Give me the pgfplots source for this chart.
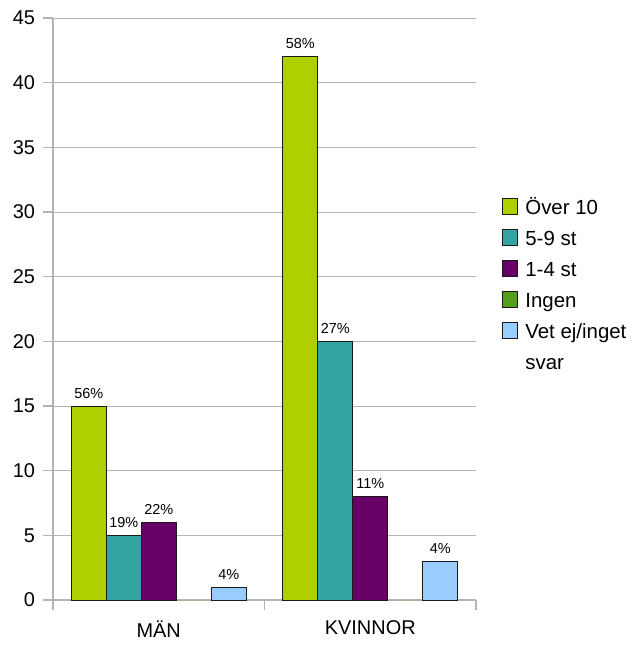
\documentclass[border=0pt]{standalone}
\usepackage{fontspec}
\setmainfont{Liberation Sans}
\usepackage{pgfplots}
\pgfplotsset{compat=1.18}
\definecolor{cOver}{HTML}{B0CF00}
\definecolor{cFem}{HTML}{33A3A3}
\definecolor{cEtt}{HTML}{660066}
\definecolor{cIngen}{HTML}{579D1C}
\definecolor{cVet}{HTML}{99CCFF}
\definecolor{cGrid}{HTML}{B3B3B3}
\definecolor{cEdge}{HTML}{1A1A1A}
\begin{document}
\begin{tikzpicture}
\begin{axis}[
  scale only axis, width=423bp, height=582bp,
  ymin=0, ymax=45, xmin=-0.5, xmax=1.5,
  ybar=0pt, bar width=0.1655,
  axis lines*=left,
  axis line style={draw=cGrid, line width=1.1pt},
  ymajorgrids, grid style={draw=cGrid, line width=0.9pt},
  ytick={0,5,...,45},
  xtick={-0.5,0.5,1.5}, xticklabels={},
  extra x ticks={0,1}, extra x tick labels={MÄN,KVINNOR},
  extra x tick style={tick style={draw=none}, grid=none},
  tick align=outside, major tick length=10bp,
  tick style={draw=cGrid, line width=1.1pt},
  /pgf/number format/assume math mode=true,
  yticklabel style={font=\fontsize{20}{22}\selectfont, xshift=-4.5bp},
  xticklabel style={font=\fontsize{20}{22}\selectfont, yshift=-7bp},
  every node near coord/.append style={font=\fontsize{14.5}{16}\selectfont, yshift=4bp, text=black},
  legend style={draw=none, fill=none, at={(1.06,0.694)}, anchor=north west,
    inner sep=0pt, font=\fontsize{20.5}{31}\selectfont, row sep=9.5bp, column sep=6bp,
    cells={anchor=base west, text height=16bp, text depth=5bp}},
  legend image code/.code={\draw[#1, draw=cEdge, line width=0.8pt] (0bp,-0.5bp) rectangle (15bp,15.5bp);},
]
\addplot[fill=cOver, draw=cEdge, line width=0.8pt, nodes near coords, point meta=explicit symbolic]
  coordinates {(0,15) [56\%] (1,42) [58\%]};
\addlegendentry{Över 10}
\addplot[fill=cFem, draw=cEdge, line width=0.8pt, nodes near coords, point meta=explicit symbolic]
  coordinates {(0,5) [19\%] (1,20) [27\%]};
\addlegendentry{5-9 st}
\addplot[fill=cEtt, draw=cEdge, line width=0.8pt, nodes near coords, point meta=explicit symbolic]
  coordinates {(0,6) [22\%] (1,8) [11\%]};
\addlegendentry{1-4 st}
\addplot[fill=cIngen, draw=none]
  coordinates {(0,0) (1,0)};
\addlegendentry{Ingen}
\addplot[fill=cVet, draw=cEdge, line width=0.8pt, nodes near coords, point meta=explicit symbolic]
  coordinates {(0,1) [4\%] (1,3) [4\%]};
\addlegendentry{\smash{\begin{tabular}[t]{@{}l@{}}Vet ej/inget\\svar\end{tabular}}}
\end{axis}
\path (current axis.south west) ++(-53bp,-46bp) rectangle ++(637bp,646bp);
\end{tikzpicture}
\end{document}
